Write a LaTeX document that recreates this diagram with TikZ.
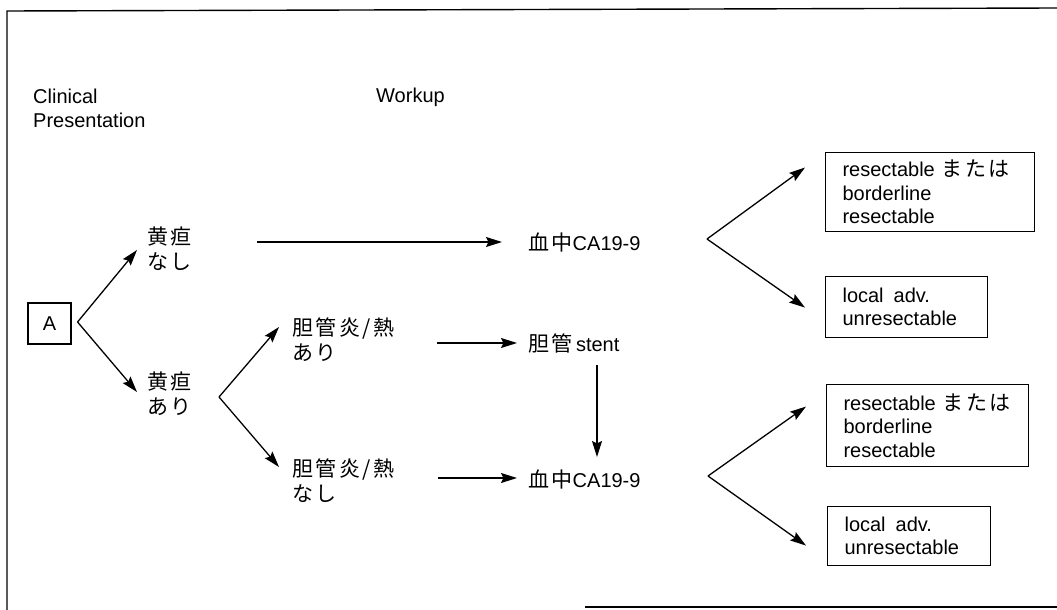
\documentclass[tikz,border=0pt]{standalone}
\usepackage{fontspec}
\setmainfont{Liberation Sans}
\newfontfamily\jp[LetterSpace=12]{Noto Sans CJK JP}
\newcommand{\jpf}{\fontsize{21pt}{25pt}\selectfont\jp}
\usetikzlibrary{arrows.meta,calc}
\begin{document}
\begin{tikzpicture}[x=1pt,y=-1pt,
  every node/.style={inner sep=0pt,font=\fontsize{20pt}{24pt}\selectfont},
  jptext/.style={font=\jpf, align=left, anchor=west},
  lbl/.style={anchor=west, align=left},
  outbox/.style={draw, line width=1.1pt, anchor=north west, inner xsep=17pt, align=left,
    font=\fontsize{20pt}{23.5pt}\selectfont},
  arr/.style={line width=1.3pt, -{Stealth[length=16pt,width=10pt,inset=2.5pt]}},
  frame/.style={line width=1.4pt}]
\useasboundingbox (0,0) rectangle (1057,610);
% frame
\coordinate (ftl) at (7,11);
\coordinate (ftr) at (1057,8);
\coordinate (fbl) at (7,610);
\coordinate (fbm) at (585,607);
\coordinate (fbr) at (1057,607);
\draw[frame] (ftr) -- (ftl) -- (fbl);
\draw[frame] (fbm) -- (fbr);
% headers
\node[lbl] (cp) at (33,108) {Clinical\\Presentation};
\node[anchor=base west] (wk) at (376,102) {Workup};
% start
\node[draw, line width=1.1pt, minimum width=43pt, minimum height=41pt] (A) at (49.5,323.5) {A};
% jaundice
\node[jptext] (j1) at (147,249) {黄疸\\なし};
\node[jptext] (j2) at (147,394) {黄疸\\あり};
% cholangitis
\node[jptext] (c1) at (292,339.5) {胆管炎/熱\\あり};
\node[jptext] (c2) at (292,481) {胆管炎/熱\\なし};
% workup
\node[lbl] (ca1) at (528,242) {{\jpf 血中}CA19-9};
\node[lbl] (st) at (528,343) {{\jpf 胆管}\,stent};
\node[lbl] (ca2) at (528,479) {{\jpf 血中}CA19-9};
% outcome boxes
\node[outbox, text width=175pt, minimum height=79pt] (b1) at (825,152)
  {resectable {\fontsize{21pt}{24pt}\selectfont\jp または}\\borderline\\resectable};
\node[outbox, text width=128pt, minimum height=61pt] (b2) at (825,276)
  {local\, adv.\\unresectable};
\node[outbox, text width=168pt, minimum height=82pt] (b3) at (826,384)
  {resectable {\fontsize{21pt}{24pt}\selectfont\jp または}\\borderline\\resectable};
\node[outbox, text width=129pt, minimum height=59pt] (b4) at (827,506)
  {local\, adv.\\unresectable};
% connectors
\coordinate (fA) at ($(A.east)+(6,-1.5)$);
\draw[arr] (fA) -- ($(j1.west)+(-10,1)$);
\draw[arr] (fA) -- ($(j2.west)+(-10,-2)$);
\coordinate (fJ) at ($(j2.west)+(72,3)$);
\draw[arr] (fJ) -- ($(c1.west)+(-13,-12.5)$);
\draw[arr] (fJ) -- ($(c2.west)+(-13,-14)$);
\draw[arr] ($(j1.west)+(110,-7)$) -- ($(ca1.west)+(-26,0)$);
\draw[arr] ($(c1.west)+(145,3.5)$) -- ($(st.west)+(-11,0)$);
\draw[arr] ($(c2.west)+(146,-3)$) -- ($(ca2.west)+(-11,-1)$);
\draw[arr] ($(st.west)+(69,22)$) -- ($(ca2.west)+(69,-22)$);
\coordinate (f1) at ($(ca1.west)+(179,-3)$);
\draw[arr] (f1) -- ($(b1.west)+(-20,-24.5)$);
\draw[arr] (f1) -- ($(b2.west)+(-20,0.5)$);
\coordinate (f2) at ($(ca2.west)+(180,-3)$);
\draw[arr] (f2) -- ($(b3.west)+(-20,-19)$);
\draw[arr] (f2) -- ($(b4.west)+(-21,9.5)$);
\end{tikzpicture}
\end{document}
